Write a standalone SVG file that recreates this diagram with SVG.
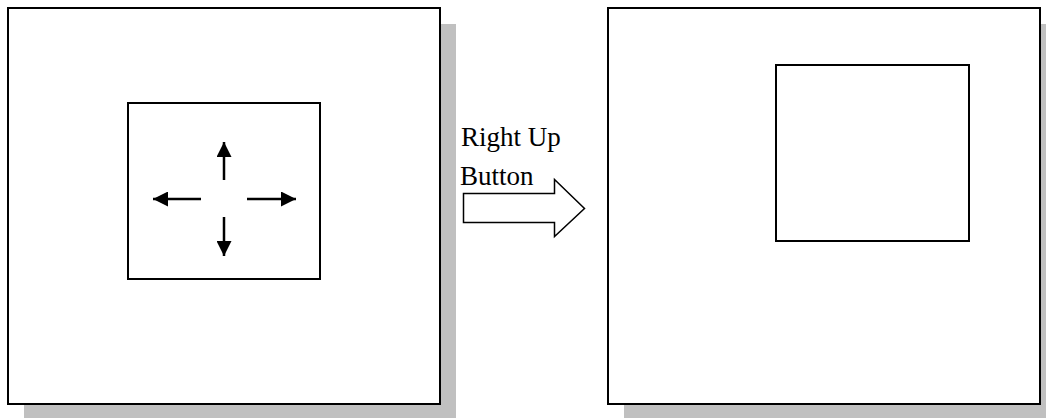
<svg xmlns="http://www.w3.org/2000/svg" width="1046" height="418" viewBox="0 0 1046 418">
  <style>
    .shadow { fill: #c0c0c0; stroke: none; }
    .box { fill: #ffffff; stroke: #000000; stroke-width: 2; }
    .line { stroke: #000000; stroke-width: 2.5; fill: none; }
    .lbl { font-family: "Liberation Serif", "Times New Roman", serif; font-size: 27px; fill: #000000; }
  </style>
  <defs>
    <marker id="ah" viewBox="0 0 10 10" refX="10" refY="5" markerWidth="6" markerHeight="6" markerUnits="strokeWidth" orient="auto">
      <path d="M0,0 L10,5 L0,10 z" fill="#000000"/>
    </marker>
  </defs>
  <rect width="1046" height="418" fill="#ffffff"/>

  <g id="before">
    <rect class="shadow" x="24" y="24" width="432" height="394"/>
    <rect class="box" x="8" y="8" width="432" height="396"/>
    <rect class="box" x="128" y="103" width="192" height="176"/>
  </g>

  <g id="after">
    <rect class="shadow" x="624" y="24" width="422" height="394"/>
    <rect class="box" x="608" y="8" width="432" height="396"/>
    <rect class="box" x="776" y="65" width="193" height="176"/>
  </g>

  <g id="connectors">
    <line class="line" x1="224" y1="180" x2="224" y2="142" marker-end="url(#ah)"/>
    <line class="line" x1="224" y1="217" x2="224" y2="256" marker-end="url(#ah)"/>
    <line class="line" x1="201" y1="199" x2="153" y2="199" marker-end="url(#ah)"/>
    <line class="line" x1="247" y1="199" x2="296" y2="199" marker-end="url(#ah)"/>
    <polygon id="block-arrow" points="463.5,193.5 554.5,193.5 554.5,179.5 584.5,208.5 554.5,236.5 554.5,222.5 463.5,222.5" fill="#ffffff" stroke="#000000" stroke-width="1.5"/>
  </g>

  <g id="label">
    <text class="lbl" x="461" y="146">Right Up</text>
    <text class="lbl" x="460" y="185">Button</text>
  </g>
</svg>
